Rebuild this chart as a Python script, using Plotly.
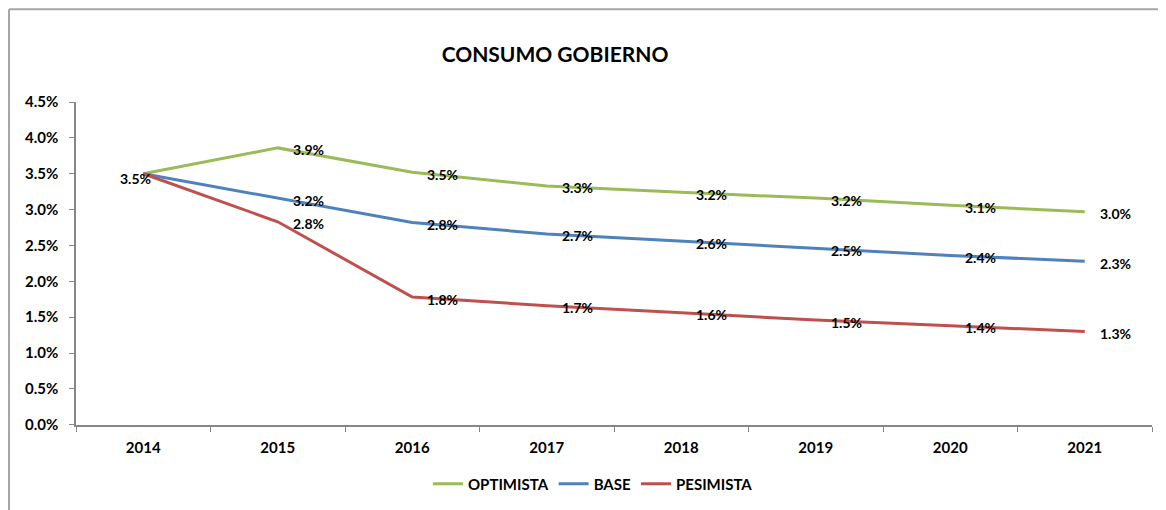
import plotly.graph_objects as go

years = ["2014", "2015", "2016", "2017", "2018", "2019", "2020", "2021"]
optimista = [3.5, 3.86, 3.52, 3.33, 3.24, 3.16, 3.06, 2.97]
base = [3.5, 3.16, 2.82, 2.66, 2.56, 2.46, 2.36, 2.28]
pesimista = [3.5, 2.83, 1.78, 1.66, 1.56, 1.46, 1.38, 1.30]
y_ticks = [0.0, 0.5, 1.0, 1.5, 2.0, 2.5, 3.0, 3.5, 4.0, 4.5]

FONT = "Lato"
OFF = 8  # browser body margin
W, H = 1166 - OFF, 510 - OFF
L, R, T, B = 76 - OFF, 14, 102 - OFF, 84
PW, PH = W - L - R, H - T - B

series = [
    ("OPTIMISTA", optimista, "#9BBB59"),
    ("BASE", base, "#4F81BD"),
    ("PESIMISTA", pesimista, "#C0504D"),
]

fig = go.Figure()
annotations = []
lab_font = dict(family=FONT, size=14, color="#000000", weight="bold")
for name, vals, col in series:
    fig.add_trace(go.Scatter(
        x=years, y=vals, name=name, mode="lines",
        line=dict(color=col, width=3),
    ))
    for i, yv in enumerate(vals):
        if i == 0:
            continue
        annotations.append(dict(
            x=i, y=yv, xref="x", yref="y", text="%.1f%%" % yv,
            showarrow=False, xanchor="left", yanchor="middle",
            xshift=13, yshift=-2, font=lab_font,
        ))

# single label for 2014 (left/below of point)
annotations.append(dict(
    x=0, y=base[0], xref="x", yref="y", text="%.1f%%" % base[0],
    showarrow=False, xanchor="center", yanchor="middle",
    xshift=-8, yshift=-5, font=lab_font,
))


def px_x(px):
    return (px - OFF - L) / PW


def px_y(py):
    return (H - B - (py - OFF)) / PH


border = dict(type="line", xref="paper", yref="paper",
              line=dict(color="#A6A6A6", width=2))
fig.add_shape(**border, x0=px_x(9), x1=px_x(1175), y0=px_y(9), y1=px_y(9))
fig.add_shape(**border, x0=px_x(9), x1=px_x(9), y0=px_y(9), y1=px_y(520))

fig.update_layout(
    width=W, height=H,
    margin=dict(l=L, r=R, t=T, b=B),
    paper_bgcolor="white", plot_bgcolor="white",
    title=dict(text="<b>CONSUMO GOBIERNO</b>", x=(555 - OFF) / W, xanchor="center",
               y=1 - (55 - OFF) / H, yanchor="middle",
               font=dict(family=FONT, size=21, color="#000000")),
    showlegend=True,
    legend=dict(orientation="h", x=(593 - OFF) / W, xanchor="center", xref="container",
                y=1 - (484 - OFF) / H, yanchor="middle", yref="container",
                font=dict(family=FONT, size=15, color="#000000", weight="bold"),
                itemwidth=30, tracegroupgap=0),
    font=dict(family=FONT, color="#000000"),
    annotations=annotations,
)
fig.update_xaxes(
    type="category", range=[-0.5, 7.5], showgrid=False,
    showline=True, linecolor="#868686", linewidth=1.5,
    ticks="outside", tickson="boundaries", ticklen=5, tickcolor="#868686",
    tickfont=dict(family=FONT, size=15, color="#000000", weight="bold"),
    ticklabelstandoff=8,
)
fig.update_yaxes(
    range=[0, 4.5], tickvals=y_ticks, ticktext=["%.1f%%" % v for v in y_ticks],
    showgrid=False, zeroline=False,
    showline=True, linecolor="#868686", linewidth=1.5,
    ticks="outside", ticklen=5, tickcolor="#868686",
    tickfont=dict(family=FONT, size=15, color="#000000", weight="bold"),
    ticklabelstandoff=8,
)

fig.write_html("out.html")
